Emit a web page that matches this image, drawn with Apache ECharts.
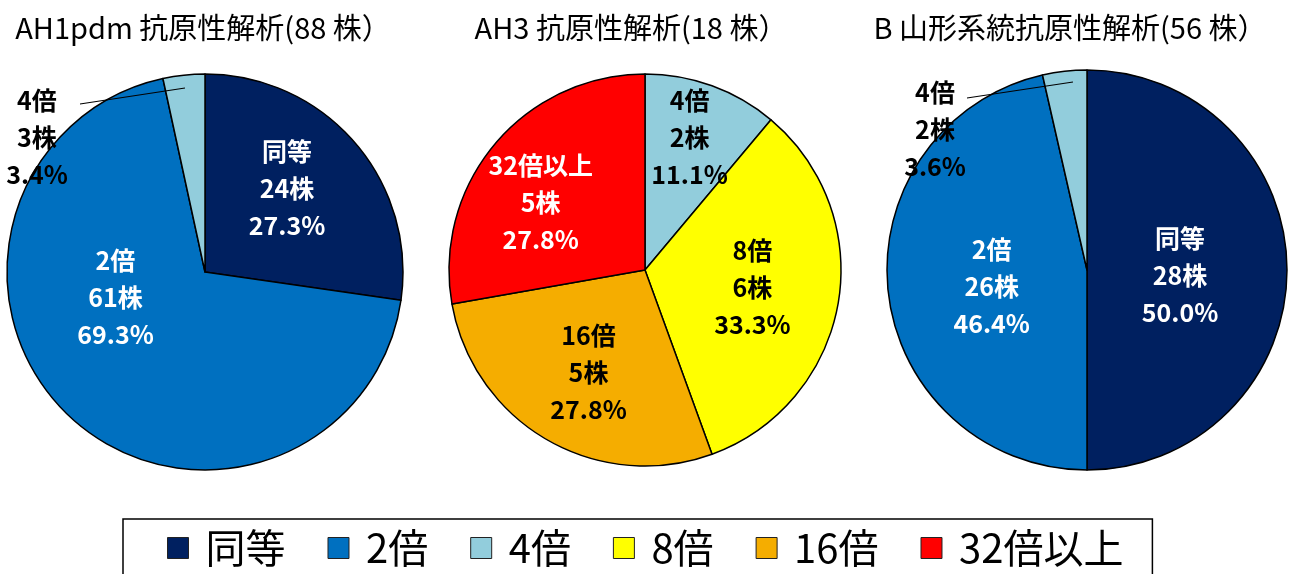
<!DOCTYPE html>
<html><head><meta charset="utf-8">
<script src="https://cdn.jsdelivr.net/npm/echarts@6/dist/echarts.min.js"></script>
<style>html,body{margin:0;padding:0;background:#fff}#c{width:1290px;height:574px}</style>
</head><body><div id="c"></div>
<script>
const categories = ['同等', '2倍', '4倍', '8倍', '16倍', '32倍以上'];
const colors = ['#002060', '#0070C0', '#92CDDC', '#FFFF00', '#F5AD00', '#FF0000'];
const labelColors = ['#fff', '#fff', '#000', '#000', '#000', '#fff'];
const titles = ['AH1pdm 抗原性解析(88 株）', 'AH3 抗原性解析(18 株）', 'B 山形系統抗原性解析(56 株）'];
const ah1Values = [24, 61, 3, 0, 0, 0];
const ah3Values = [0, 0, 2, 6, 5, 5];
const bValues = [28, 26, 2, 0, 0, 0];

const FONT = '"Noto Sans CJK JP", sans-serif';
// layout: pie geometry + per-category inside-label nudges (px)
const pies = [
  {values: ah1Values, center: [205, 272], r: 198, titleX: 198,
   nudge: {'同等': [5, -17], '2倍': [-20, -49]}},
  {values: ah3Values, center: [645, 270], r: 196, titleX: 626,
   nudge: {'4倍': [10, -38], '8倍': [8, 0], '16倍': [-6, 15], '32倍以上': [-27, -3]}},
  {values: bValues, center: [1087, 270], r: 200, titleX: 1065,
   nudge: {'同等': [-10, 5], '2倍': [7, 5]}}
];
// outer label placement for tiny 4倍 slices (relative to pie center)
const outerLabel = {
  0: {lx: -168, ly: -135, p0: [-20, -184], p1: [-125, -168]},
  2: {lx: -152, ly: -141, p0: [-14, -188], p1: [-120, -172]}
};

const labelBase = {
  fontFamily: FONT, fontWeight: 'bold', fontSize: 25, lineHeight: 37,
  formatter: q => q.name + '\n' + q.value + '株\n' + q.percent.toFixed(1) + '%'
};

function buildData(p, si, overlay) {
  return categories.map((name, i) => ({name, value: p.values[i], i}))
    .filter(d => d.value > 0)
    .map(d => {
      const isOuter = !!outerLabel[si] && d.name === '4倍';
      const item = {name: d.name, value: d.value};
      if (overlay) {
        item.itemStyle = {color: 'rgba(0,0,0,0)', borderWidth: 0};
        item.label = {show: isOuter, color: '#000', position: 'outside'};
        item.labelLine = {show: isOuter, lineStyle: {color: '#000', width: 1.2}};
      } else {
        item.itemStyle = {color: colors[d.i]};
        item.label = {show: !isOuter, color: labelColors[d.i]};
      }
      return item;
    });
}

const series = [];
pies.forEach((p, si) => {
  const names = categories.filter((c, i) => p.values[i] > 0);
  series.push({
    type: 'pie', center: p.center, radius: p.r, startAngle: 90, clockwise: true,
    avoidLabelOverlap: false, percentPrecision: 1, z: 2,
    itemStyle: {borderColor: '#000', borderWidth: 1.5},
    emphasis: {disabled: true},
    label: Object.assign({position: 'inside'}, labelBase),
    labelLine: {show: false},
    data: buildData(p, si, false),
    labelLayout: params => {
      const n = p.nudge[names[params.dataIndex]];
      return n ? {dx: n[0], dy: n[1]} : {};
    }
  });
});
pies.forEach((p, si) => {
  const o = outerLabel[si];
  if (!o) return;
  series.push({
    type: 'pie', center: p.center, radius: p.r, startAngle: 90, clockwise: true,
    avoidLabelOverlap: false, percentPrecision: 1, z: 5, silent: true,
    emphasis: {disabled: true},
    label: Object.assign({}, labelBase),
    data: buildData(p, si, true),
    labelLayout: () => {
      const [cx, cy] = p.center;
      const a = [cx + o.p0[0], cy + o.p0[1]], b = [cx + o.p1[0], cy + o.p1[1]];
      return {x: cx + o.lx, y: cy + o.ly, align: 'center', verticalAlign: 'middle',
        labelLinePoints: [a, [(a[0] + b[0]) / 2, (a[1] + b[1]) / 2], b]};
    }
  });
});

const option = {
  animation: false,
  title: pies.map((p, i) => ({
    text: titles[i], left: p.titleX, top: 8, textAlign: 'center',
    textStyle: {fontFamily: FONT, fontSize: 29, fontWeight: 'normal', color: '#000'}
  })),
  legend: {
    left: 123, top: 519,
    data: categories,
    selectedMode: false,
    icon: 'rect', itemWidth: 21, itemHeight: 21, itemGap: 42,
    itemStyle: {borderColor: '#222', borderWidth: 1},
    borderColor: '#000', borderWidth: 1.5,
    padding: [9, 29, 40, 44],
    textStyle: {fontFamily: FONT, fontSize: 40, lineHeight: 40, color: '#000', padding: [0, 0, 0, 12]}
  },
  series
};
const chart = echarts.init(document.getElementById('c'));
chart.setOption(option);
</script></body></html>
